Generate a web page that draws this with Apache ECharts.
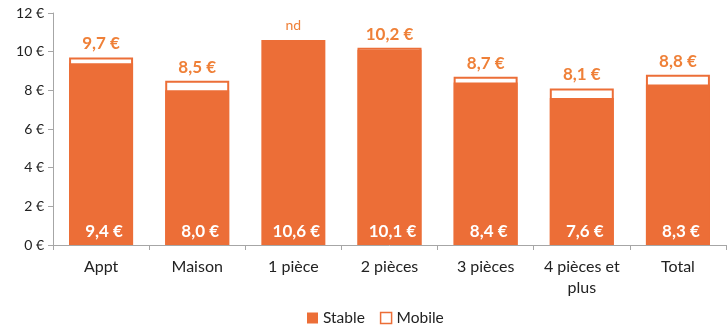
<!DOCTYPE html>
<html>
<head>
<meta charset="utf-8">
<script src="https://cdn.jsdelivr.net/npm/echarts@6/dist/echarts.min.js"></script>
<style>
  html, body { margin: 0; padding: 0; background: #fff; }
  #chart { width: 728px; height: 331px; }
</style>
</head>
<body>
<div id="chart"></div>
<script>
// Loyer moyen au m² : locataires stables vs mobiles
const categories = ['Appt', 'Maison', '1 pièce', '2 pièces', '3 pièces', '4 pièces et\nplus', 'Total'];
const stable = [9.4, 8.0, 10.6, 10.1, 8.4, 7.6, 8.3];
const mobile = [9.7, 8.5, null, 10.2, 8.7, 8.1, 8.8];
// "nd" marker sits on top of the stable bar where mobile is unavailable
const notAvailable = mobile.map((v, i) => (v === null ? stable[i] : null));
const yTicks = [0, 2, 4, 6, 8, 10, 12];

const ORANGE = '#EC6E37';
const LABEL_ORANGE = '#EF8038';
const FONT = 'Lato, "Open Sans", sans-serif';

const fmt = v => v.toFixed(1).replace('.', ',') + ' €';

const chart = echarts.init(document.getElementById('chart'), null, { renderer: 'canvas' });
chart.setOption({
  animation: false,
  textStyle: { fontFamily: FONT },
  grid: { left: 53, right: 2, top: 13, bottom: 86 },
  legend: {
    data: [
      { name: 'Stable', icon: 'rect', itemStyle: { color: ORANGE } },
      { name: 'Mobile', icon: 'rect', itemStyle: { color: '#fff', borderColor: ORANGE, borderWidth: 1.5 } }
    ],
    bottom: 0,
    left: 302,
    itemWidth: 11,
    itemHeight: 11,
    itemGap: 15,
    textStyle: { fontFamily: FONT, fontSize: 15.5, color: '#222', padding: [0, 0, 0, 0] }
  },
  xAxis: {
    type: 'category',
    data: categories,
    axisLine: { lineStyle: { color: '#a6a6a6', width: 1 } },
    axisTick: { show: true, alignWithLabel: false, length: 5, lineStyle: { color: '#a6a6a6' } },
    axisLabel: { interval: 0, fontFamily: FONT, fontSize: 16, color: '#222', margin: 11, lineHeight: 21 }
  },
  yAxis: {
    type: 'value',
    min: yTicks[0],
    max: yTicks[yTicks.length - 1],
    interval: 2,
    splitLine: { show: false },
    axisLine: { show: true, lineStyle: { color: '#a6a6a6', width: 1 } },
    axisTick: { show: true, length: 5, lineStyle: { color: '#a6a6a6' } },
    axisLabel: { fontFamily: FONT, fontSize: 14, color: '#222', margin: 9, formatter: v => v + ' €' }
  },
  series: [
    {
      name: 'Mobile',
      type: 'bar',
      data: mobile,
      barWidth: 64,
      barGap: '-100%',
      z: 2,
      itemStyle: { color: '#fff', borderColor: ORANGE, borderWidth: 2 },
      label: {
        show: true,
        position: 'top',
        distance: 5,
        color: LABEL_ORANGE,
        fontWeight: 'bold',
        fontSize: 17,
        fontFamily: FONT,
        formatter: p => fmt(p.value)
      }
    },
    {
      name: 'Stable',
      type: 'bar',
      data: stable,
      barWidth: 64,
      barGap: '-100%',
      z: 3,
      itemStyle: { color: ORANGE },
      label: {
        show: true,
        position: 'insideBottom',
        distance: 5,
        offset: [3, 0],
        color: '#fff',
        fontWeight: 'bold',
        fontSize: 17,
        fontFamily: FONT,
        formatter: p => fmt(p.value)
      }
    },
    {
      name: 'nd',
      type: 'bar',
      data: notAvailable,
      barWidth: 64,
      barGap: '-100%',
      z: 1,
      silent: true,
      itemStyle: { color: 'rgba(0,0,0,0)' },
      label: {
        show: true,
        position: 'top',
        distance: 8,
        color: LABEL_ORANGE,
        fontSize: 14,
        fontFamily: FONT,
        formatter: 'nd'
      }
    }
  ]
});
</script>
</body>
</html>
